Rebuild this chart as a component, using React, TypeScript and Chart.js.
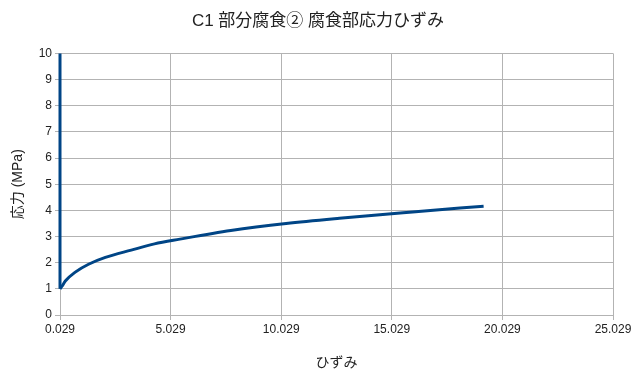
import React, { useEffect, useRef } from "react";
import { Chart, registerables } from "chart.js";

Chart.register(...registerables);

// initial vertical segment
const riseStrain = [0.029, 0.029];
const riseStress = [10, 1];
// curve
const strainValues = [0.029, 0.12, 0.27, 0.72, 1.32, 2.08, 3.25, 4.3, 5.45, 7.75, 10.25, 12.66, 15.97, 19.18];
const stressValues = [1, 1.1, 1.3, 1.64, 1.94, 2.2, 2.48, 2.72, 2.9, 3.23, 3.5, 3.7, 3.94, 4.16];
const xTickValues = [0.029, 5.029, 10.029, 15.029, 20.029, 25.029];
const yTickValues = [0, 1, 2, 3, 4, 5, 6, 7, 8, 9, 10];

const titleText = "C1 部分腐食② 腐食部応力ひずみ";
const xTitle = "ひずみ";
const yTitle = "応力 (MPa)";

const FONT = "'Liberation Sans', 'Noto Sans CJK JP', sans-serif";
const LINE = "#004586";

export default function App() {
  const ref = useRef<HTMLCanvasElement | null>(null);
  useEffect(() => {
    if (!ref.current) return;
    const chart = new Chart(ref.current, {
      type: "scatter",
      data: {
        datasets: [
          {
            data: riseStrain.map((x, i) => ({ x, y: riseStress[i] })),
            showLine: true,
            borderColor: LINE,
            backgroundColor: LINE,
            borderWidth: 3,
            pointRadius: 0,
            clip: 4,
          },
          {
            data: strainValues.map((x, i) => ({ x, y: stressValues[i] })),
            showLine: true,
            borderColor: LINE,
            backgroundColor: LINE,
            borderWidth: 3,
            pointRadius: 0,
            cubicInterpolationMode: "monotone",
            clip: 4,
          },
        ],
      },
      options: {
        animation: false,
        responsive: false,
        maintainAspectRatio: false,
        layout: { padding: { left: 0, right: 0, top: 8, bottom: 8 } },
        plugins: {
          legend: { display: false },
          tooltip: { enabled: false },
          title: {
            display: true,
            text: titleText,
            color: "#222",
            font: { family: FONT, size: 17, weight: "normal" },
            padding: { top: 3, bottom: 22 },
          },
        },
        scales: {
          x: {
            type: "linear",
            min: xTickValues[0],
            max: xTickValues[xTickValues.length - 1],
            afterBuildTicks: (s: any) => {
              s.ticks = xTickValues.map((v) => ({ value: v }));
            },
            afterFit: (s: any) => {
              s.height = 61;
              s.paddingRight = 23;
            },
            ticks: {
              color: "#222",
              font: { family: FONT, size: 12 },
              maxRotation: 0,
              autoSkip: false,
              padding: 2,
              callback: (v: any) => Number(v).toFixed(3),
            },
            grid: { color: "#b3b3b3", tickLength: 5, drawTicks: true },
            border: { color: "#b3b3b3" },
            title: {
              display: true,
              text: xTitle,
              color: "#222",
              font: { family: FONT, size: 14 },
              padding: { top: 13 },
            },
          },
          y: {
            type: "linear",
            min: 0,
            max: 10,
            afterBuildTicks: (s: any) => {
              s.ticks = yTickValues.map((v) => ({ value: v }));
            },
            afterFit: (s: any) => {
              s.width = 60;
            },
            ticks: {
              color: "#222",
              font: { family: FONT, size: 12 },
              padding: 3,
            },
            grid: { color: "#b3b3b3", tickLength: 5 },
            border: { color: "#b3b3b3" },
            title: {
              display: true,
              text: yTitle,
              color: "#222",
              font: { family: FONT, size: 14 },
              padding: { top: 10, bottom: 4 },
            },
          },
        },
      },
    });
    return () => chart.destroy();
  }, []);
  return (
    <div style={{ position: "fixed", left: 0, top: 0, width: 636, height: 384 }}>
      <canvas ref={ref} width={636} height={384} style={{ display: "block", width: 636, height: 384 }} />
    </div>
  );
}
